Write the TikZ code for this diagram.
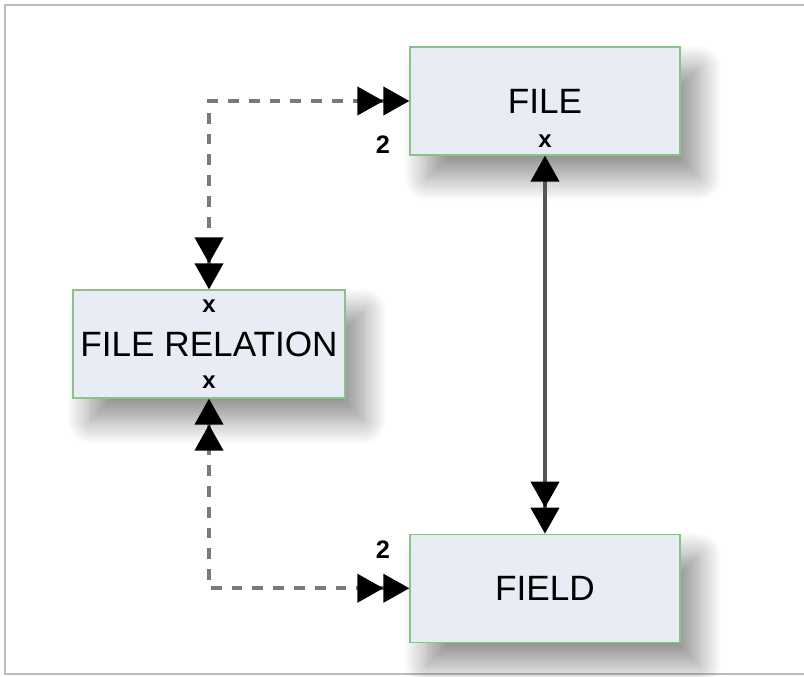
\documentclass[tikz,border=0pt]{standalone}
\usepackage{fontspec}
\setmainfont{Liberation Sans}
\usepackage{xcolor}
\usetikzlibrary{positioning, arrows.meta, shadows.blur}

\definecolor{boxfill}{HTML}{E8ECF4}
\definecolor{boxline}{HTML}{8CC08C}
\definecolor{dashgray}{HTML}{7A7A7A}
\definecolor{linegray}{HTML}{555555}
\definecolor{framegray}{HTML}{BDBDBD}

\tikzset{
    bighead/.tip={Triangle[length=0.65cm, width=0.7cm, color=black]},
    bigheads/.tip={bighead[sep=0pt] bighead}
}

\begin{document}
\begin{tikzpicture}[x=0.025cm, y=-0.025cm,
    entity/.style={rectangle, draw=boxline, fill=boxfill, line width=0.8pt,
    minimum width=6.75cm, minimum height=2.7cm, inner sep=0pt, align=center,
    font=\fontsize{25}{30}\selectfont,
    blur shadow={shadow xshift=0.45cm, shadow yshift=-0.55cm,
    shadow blur radius=0.6cm, shadow blur steps=25, shadow opacity=45}},
    cross/.style={inner sep=0pt, font=\fontsize{17}{20}\selectfont\bfseries},
    count/.style={inner sep=0pt, font=\fontsize{18}{21}\selectfont\bfseries},
    dashlink/.style={draw=dashgray, line width=2.8pt, dash pattern=on 0.27cm off 0.25cm},
    solidlink/.style={draw=linegray, line width=2.8pt}
]
\useasboundingbox (0,0) rectangle (804,677);

% frame
\draw[framegray, line width=2pt] (804,5) -- (5,5) -- (5,674) -- (804,674);

\node[entity] (file) at (545,101) {FILE};
\node[entity, minimum width=6.8cm] (filerel) at (209,344) {FILE RELATION};
\node[entity, below=9.45cm of file] (field) {FIELD};

\node[cross] (filex) at ([yshift=0.35cm]file.south) {x};
\node[cross] (relxtop) at ([yshift=-0.425cm]filerel.north) {x};
\node[cross] (relxbot) at ([yshift=0.4cm]filerel.south) {x};

\node[count] (filenum) at (383,145) {2};
\node[count] (fieldnum) at (383,550) {2};

\draw[dashlink, bigheads-bigheads] (file.west) -| (filerel.north);
\draw[dashlink, bigheads-bigheads] (filerel.south) |- (field.west);
\draw[solidlink, bighead-bigheads] (file.south) -- (field.north);

\end{tikzpicture}
\end{document}
